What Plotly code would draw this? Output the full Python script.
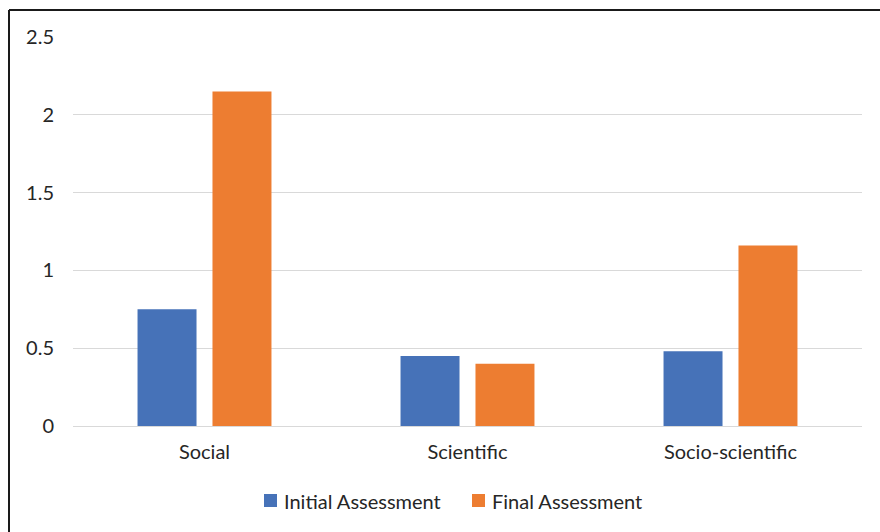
import plotly.graph_objects as go

categories = ["Social", "Scientific", "Socio-scientific"]
initial_assessment = [0.75, 0.45, 0.48]
final_assessment = [2.15, 0.40, 1.16]
y_ticks = [0, 0.5, 1, 1.5, 2, 2.5]
y_tick_labels = ["0", "0.5", "1", "1.5", "2", "2.5"]
series_names = ["Initial Assessment", "Final Assessment"]
series_colors = ["#4672B8", "#ED7D31"]

W, H = 880, 532
ML, MR, MT, MB = 73, 18, 37, 106
pw, ph = W - ML - MR, H - MT - MB

def px_x(x):
    return (x - ML) / pw

def px_y(y):
    return (H - MB - y) / ph

font_family = "Lato, 'Open Sans', sans-serif"
text_color = "#262626"
font_size = 20

fig = go.Figure()
for name, vals, col in zip(series_names, [initial_assessment, final_assessment], series_colors):
    fig.add_trace(go.Bar(x=categories, y=vals, name=name,
                         marker=dict(color=col, line=dict(width=0))))

# hand-placed legend: small squares with labels right beside them
legend_items = [(264, 282), (472, 490)]
shapes = []
annotations = []
for (sx, tx), name, col in zip(legend_items, series_names, series_colors):
    shapes.append(dict(type="rect", xref="paper", yref="paper",
                       x0=px_x(sx), x1=px_x(sx + 13), y0=px_y(494), y1=px_y(507),
                       fillcolor=col, line=dict(width=0)))
    annotations.append(dict(text=name, xref="paper", yref="paper",
                            x=px_x(tx), y=px_y(501), xanchor="left", yanchor="middle",
                            showarrow=False, font=dict(size=font_size, color=text_color)))

# chart frame (top and left edges)
shapes += [
    dict(type="line", xref="paper", yref="paper",
         x0=px_x(9), x1=px_x(880), y0=px_y(10), y1=px_y(10),
         line=dict(color="#1a1a1a", width=2)),
    dict(type="line", xref="paper", yref="paper",
         x0=px_x(9), x1=px_x(9), y0=px_y(10), y1=px_y(532),
         line=dict(color="#1a1a1a", width=2)),
]

fig.update_layout(
    width=W, height=H,
    margin=dict(l=ML, r=MR, t=MT, b=MB, pad=0),
    paper_bgcolor="white", plot_bgcolor="white",
    barmode="group", bargap=0.43, bargroupgap=0.213,
    font=dict(family=font_family, size=font_size, color=text_color),
    showlegend=False,
    xaxis=dict(showgrid=False, showline=False, zeroline=False, ticks="",
               tickfont=dict(size=font_size, color=text_color), ticklabelstandoff=12),
    yaxis=dict(range=[0, 2.5], tickvals=y_ticks, ticktext=y_tick_labels,
               showgrid=True, gridcolor="#D9D9D9", gridwidth=1.3,
               zeroline=True, zerolinecolor="#D9D9D9", zerolinewidth=1.3,
               showline=False, ticks="", ticklabelstandoff=18,
               tickfont=dict(size=font_size, color=text_color)),
    shapes=shapes,
    annotations=annotations,
)

fig.write_html("out.html")
